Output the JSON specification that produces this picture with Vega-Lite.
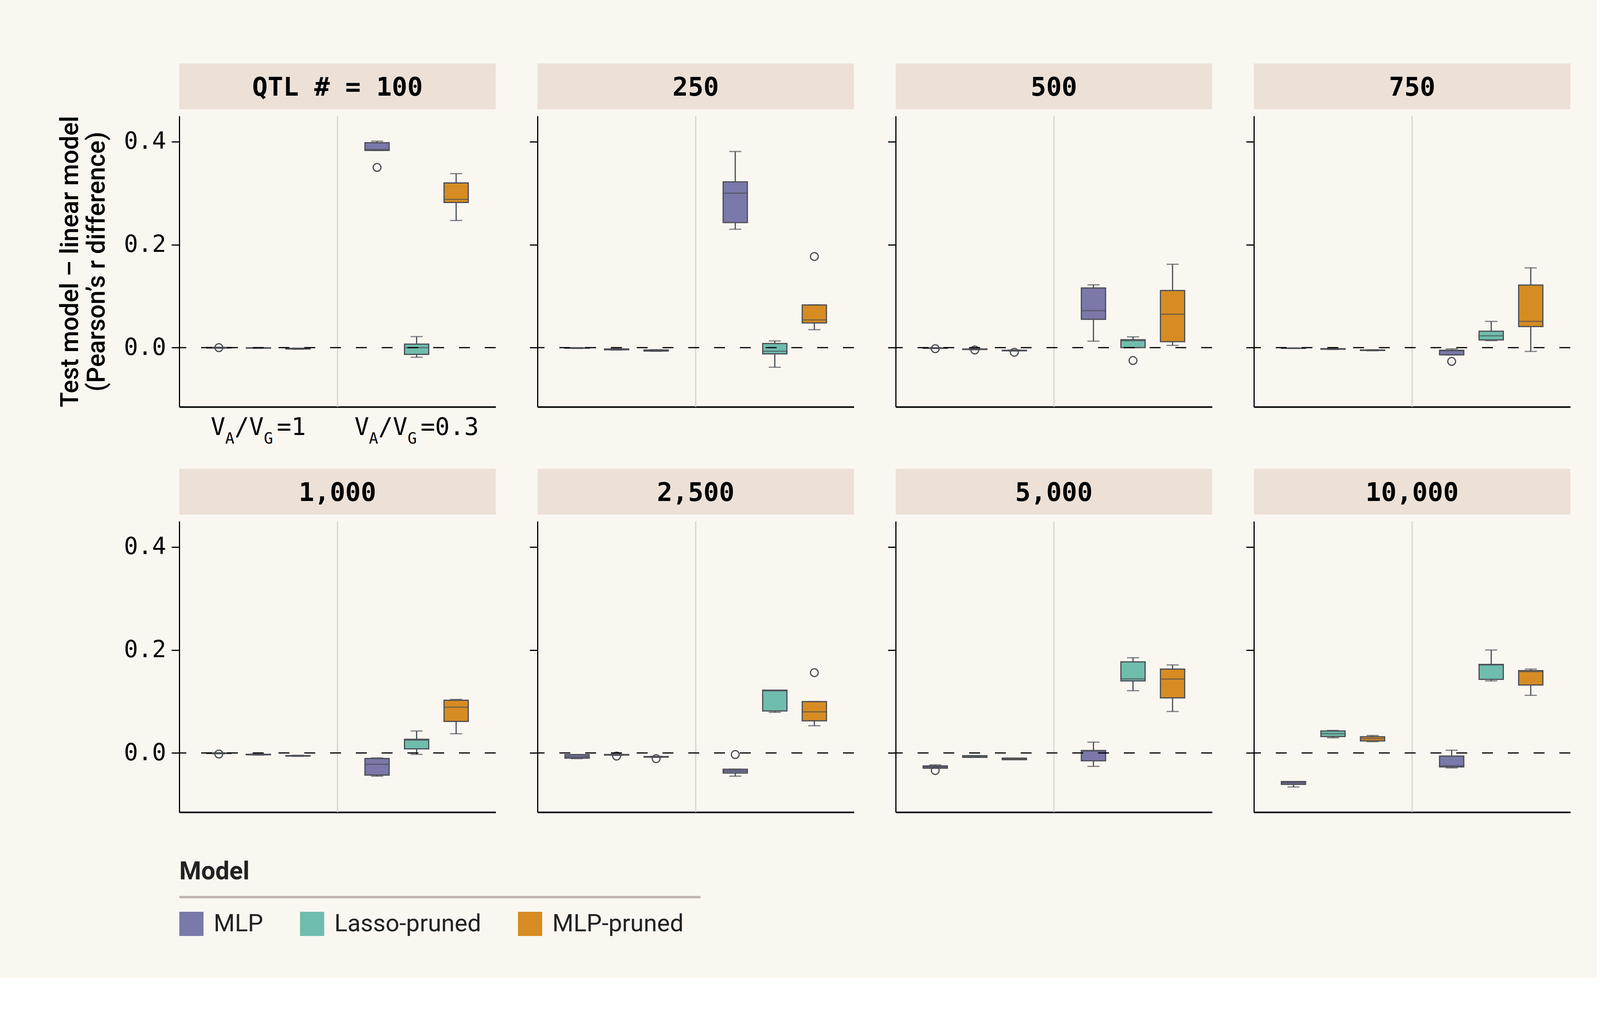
{
  "$schema": "https://vega.github.io/schema/vega-lite/v6.json",
  "background": "#faf7f1",
  "padding": {"left": 148, "top": 162, "right": 66, "bottom": 108},
  "autosize": {"type": "pad"},
  "datasets": {
    "box": [
      {"qtl": 100, "ratio": "1", "Model": "MLP", "lo": -0.0012, "q1": -0.0006, "med": -0.0002, "q3": 0.0004, "hi": 0.0008},
      {"qtl": 100, "ratio": "1", "Model": "Lasso-pruned", "lo": -0.0012, "q1": -0.0008, "med": -0.0005, "q3": -0.0002, "hi": 0.0},
      {"qtl": 100, "ratio": "1", "Model": "MLP-pruned", "lo": -0.003, "q1": -0.0025, "med": -0.002, "q3": -0.0015, "hi": -0.001},
      {"qtl": 100, "ratio": "0.3", "Model": "MLP", "lo": 0.383, "q1": 0.383, "med": 0.385, "q3": 0.398, "hi": 0.401},
      {"qtl": 100, "ratio": "0.3", "Model": "Lasso-pruned", "lo": -0.0186, "q1": -0.013, "med": 0.0, "q3": 0.007, "hi": 0.0215},
      {"qtl": 100, "ratio": "0.3", "Model": "MLP-pruned", "lo": 0.247, "q1": 0.282, "med": 0.288, "q3": 0.32, "hi": 0.338},
      {"qtl": 250, "ratio": "1", "Model": "MLP", "lo": -0.0015, "q1": -0.001, "med": -0.0008, "q3": -0.0005, "hi": 0.0},
      {"qtl": 250, "ratio": "1", "Model": "Lasso-pruned", "lo": -0.0045, "q1": -0.004, "med": -0.0032, "q3": -0.0025, "hi": -0.002},
      {"qtl": 250, "ratio": "1", "Model": "MLP-pruned", "lo": -0.007, "q1": -0.0065, "med": -0.0055, "q3": -0.0045, "hi": -0.004},
      {"qtl": 250, "ratio": "0.3", "Model": "MLP", "lo": 0.23, "q1": 0.243, "med": 0.3, "q3": 0.322, "hi": 0.381},
      {"qtl": 250, "ratio": "0.3", "Model": "Lasso-pruned", "lo": -0.038, "q1": -0.012, "med": -0.007, "q3": 0.008, "hi": 0.013},
      {"qtl": 250, "ratio": "0.3", "Model": "MLP-pruned", "lo": 0.035, "q1": 0.048, "med": 0.054, "q3": 0.083, "hi": 0.083},
      {"qtl": 500, "ratio": "1", "Model": "MLP", "lo": -0.0015, "q1": -0.0012, "med": -0.001, "q3": -0.0005, "hi": 0.0},
      {"qtl": 500, "ratio": "1", "Model": "Lasso-pruned", "lo": -0.004, "q1": -0.0035, "med": -0.003, "q3": -0.0025, "hi": -0.002},
      {"qtl": 500, "ratio": "1", "Model": "MLP-pruned", "lo": -0.0065, "q1": -0.006, "med": -0.0055, "q3": -0.005, "hi": -0.0045},
      {"qtl": 500, "ratio": "0.3", "Model": "MLP", "lo": 0.0126, "q1": 0.055, "med": 0.072, "q3": 0.116, "hi": 0.122},
      {"qtl": 500, "ratio": "0.3", "Model": "Lasso-pruned", "lo": 0.0, "q1": 0.0, "med": 0.0136, "q3": 0.0155, "hi": 0.021},
      {"qtl": 500, "ratio": "0.3", "Model": "MLP-pruned", "lo": 0.0044, "q1": 0.0116, "med": 0.065, "q3": 0.111, "hi": 0.162},
      {"qtl": 750, "ratio": "1", "Model": "MLP", "lo": -0.0015, "q1": -0.0012, "med": -0.001, "q3": -0.0008, "hi": -0.0005},
      {"qtl": 750, "ratio": "1", "Model": "Lasso-pruned", "lo": -0.0035, "q1": -0.003, "med": -0.0025, "q3": -0.002, "hi": -0.0015},
      {"qtl": 750, "ratio": "1", "Model": "MLP-pruned", "lo": -0.006, "q1": -0.0055, "med": -0.005, "q3": -0.0045, "hi": -0.004},
      {"qtl": 750, "ratio": "0.3", "Model": "MLP", "lo": -0.014, "q1": -0.014, "med": -0.006, "q3": -0.005, "hi": -0.0024},
      {"qtl": 750, "ratio": "0.3", "Model": "Lasso-pruned", "lo": 0.0136, "q1": 0.015, "med": 0.023, "q3": 0.032, "hi": 0.051},
      {"qtl": 750, "ratio": "0.3", "Model": "MLP-pruned", "lo": -0.0073, "q1": 0.041, "med": 0.051, "q3": 0.1217, "hi": 0.155},
      {"qtl": 1000, "ratio": "1", "Model": "MLP", "lo": -0.0015, "q1": -0.001, "med": -0.0005, "q3": 0.0, "hi": 0.0005},
      {"qtl": 1000, "ratio": "1", "Model": "Lasso-pruned", "lo": -0.004, "q1": -0.0035, "med": -0.003, "q3": -0.0025, "hi": -0.002},
      {"qtl": 1000, "ratio": "1", "Model": "MLP-pruned", "lo": -0.0065, "q1": -0.006, "med": -0.0055, "q3": -0.005, "hi": -0.0045},
      {"qtl": 1000, "ratio": "0.3", "Model": "MLP", "lo": -0.045, "q1": -0.043, "med": -0.022, "q3": -0.0107, "hi": -0.0096},
      {"qtl": 1000, "ratio": "0.3", "Model": "Lasso-pruned", "lo": -0.0027, "q1": 0.008, "med": 0.025, "q3": 0.0267, "hi": 0.0427},
      {"qtl": 1000, "ratio": "0.3", "Model": "MLP-pruned", "lo": 0.0374, "q1": 0.0614, "med": 0.089, "q3": 0.1025, "hi": 0.104},
      {"qtl": 2500, "ratio": "1", "Model": "MLP", "lo": -0.011, "q1": -0.01, "med": -0.007, "q3": -0.0032, "hi": -0.003},
      {"qtl": 2500, "ratio": "1", "Model": "Lasso-pruned", "lo": -0.0045, "q1": -0.004, "med": -0.0035, "q3": -0.003, "hi": -0.0025},
      {"qtl": 2500, "ratio": "1", "Model": "MLP-pruned", "lo": -0.0085, "q1": -0.008, "med": -0.0075, "q3": -0.007, "hi": -0.0065},
      {"qtl": 2500, "ratio": "0.3", "Model": "MLP", "lo": -0.045, "q1": -0.039, "med": -0.035, "q3": -0.0315, "hi": -0.0315},
      {"qtl": 2500, "ratio": "0.3", "Model": "Lasso-pruned", "lo": 0.079, "q1": 0.0817, "med": 0.1207, "q3": 0.122, "hi": 0.122},
      {"qtl": 2500, "ratio": "0.3", "Model": "MLP-pruned", "lo": 0.0529, "q1": 0.0625, "med": 0.08, "q3": 0.0999, "hi": 0.0999},
      {"qtl": 5000, "ratio": "1", "Model": "MLP", "lo": -0.0294, "q1": -0.0294, "med": -0.027, "q3": -0.0251, "hi": -0.023},
      {"qtl": 5000, "ratio": "1", "Model": "Lasso-pruned", "lo": -0.0085, "q1": -0.0085, "med": -0.007, "q3": -0.0053, "hi": -0.0053},
      {"qtl": 5000, "ratio": "1", "Model": "MLP-pruned", "lo": -0.013, "q1": -0.013, "med": -0.0115, "q3": -0.01, "hi": -0.01},
      {"qtl": 5000, "ratio": "0.3", "Model": "MLP", "lo": -0.026, "q1": -0.015, "med": 0.0037, "q3": 0.0048, "hi": 0.021},
      {"qtl": 5000, "ratio": "0.3", "Model": "Lasso-pruned", "lo": 0.121, "q1": 0.14, "med": 0.144, "q3": 0.177, "hi": 0.185},
      {"qtl": 5000, "ratio": "0.3", "Model": "MLP-pruned", "lo": 0.0806, "q1": 0.107, "med": 0.1436, "q3": 0.163, "hi": 0.171},
      {"qtl": 10000, "ratio": "1", "Model": "MLP", "lo": -0.066, "q1": -0.061, "med": -0.058, "q3": -0.0555, "hi": -0.0555},
      {"qtl": 10000, "ratio": "1", "Model": "Lasso-pruned", "lo": 0.0294, "q1": 0.032, "med": 0.0374, "q3": 0.0427, "hi": 0.0438},
      {"qtl": 10000, "ratio": "1", "Model": "MLP-pruned", "lo": 0.022, "q1": 0.0235, "med": 0.0278, "q3": 0.0315, "hi": 0.034},
      {"qtl": 10000, "ratio": "0.3", "Model": "MLP", "lo": -0.029, "q1": -0.027, "med": -0.025, "q3": -0.006, "hi": 0.0053},
      {"qtl": 10000, "ratio": "0.3", "Model": "Lasso-pruned", "lo": 0.14, "q1": 0.143, "med": 0.171, "q3": 0.172, "hi": 0.2},
      {"qtl": 10000, "ratio": "0.3", "Model": "MLP-pruned", "lo": 0.112, "q1": 0.132, "med": 0.158, "q3": 0.16, "hi": 0.163}
    ],
    "out": [
      {"qtl": 100, "ratio": "1", "Model": "MLP", "v": 0.0},
      {"qtl": 100, "ratio": "0.3", "Model": "MLP", "v": 0.35},
      {"qtl": 250, "ratio": "0.3", "Model": "MLP-pruned", "v": 0.177},
      {"qtl": 500, "ratio": "1", "Model": "MLP", "v": -0.002},
      {"qtl": 500, "ratio": "1", "Model": "Lasso-pruned", "v": -0.0045},
      {"qtl": 500, "ratio": "1", "Model": "MLP-pruned", "v": -0.009},
      {"qtl": 500, "ratio": "0.3", "Model": "Lasso-pruned", "v": -0.025},
      {"qtl": 750, "ratio": "0.3", "Model": "MLP", "v": -0.0267},
      {"qtl": 1000, "ratio": "1", "Model": "MLP", "v": -0.002},
      {"qtl": 2500, "ratio": "1", "Model": "Lasso-pruned", "v": -0.006},
      {"qtl": 2500, "ratio": "1", "Model": "MLP-pruned", "v": -0.011},
      {"qtl": 2500, "ratio": "0.3", "Model": "MLP", "v": -0.003},
      {"qtl": 2500, "ratio": "0.3", "Model": "MLP-pruned", "v": 0.156},
      {"qtl": 5000, "ratio": "1", "Model": "MLP", "v": -0.034}
    ]
  },
  "concat": [
    {
      "width": 810, "height": 745,
      "data": {"name": "box"}, "transform": [{"filter": "datum.qtl == 100"}],
      "layer": [
        {"data": {"values": [{}]}, "mark": {"type": "rect", "fill": "#ece0d7"}, "encoding": {"y": {"datum": 0.463}, "y2": {"datum": 0.552}}},
        {"data": {"values": [{"ratio": "1", "t": "QTL # = 100"}]}, "mark": {"type": "text", "font": "DejaVu Sans Mono", "fontSize": 66, "fontWeight": "bold", "baseline": "alphabetic", "color": "#000"}, "encoding": {"x": {"field": "ratio", "type": "nominal", "bandPosition": 1}, "y": {"datum": 0.4895}, "text": {"field": "t"}}},
        {"data": {"values": [{"ratio": "0.3"}]}, "mark": {"type": "rule", "color": "#d6d2cc", "strokeWidth": 3}, "encoding": {"x": {"field": "ratio", "type": "nominal", "bandPosition": 0}}},
        {"mark": {"type": "rule", "color": "#4b4d54", "strokeWidth": 3}, "encoding": {"x": {"field": "ratio", "type": "nominal", "scale": {"domain": ["1", "0.3"], "paddingInner": 0, "paddingOuter": 0}}, "xOffset": {"field": "Model", "type": "nominal", "scale": {"domain": ["MLP", "Lasso-pruned", "MLP-pruned"], "paddingInner": 0, "paddingOuter": 0.5}}, "y": {"field": "lo", "type": "quantitative"}, "y2": {"field": "hi"}}},
        {"mark": {"type": "bar", "width": 62, "stroke": "#4b4d54", "strokeWidth": 3}, "encoding": {
          "x": {"field": "ratio", "type": "nominal", "scale": {"domain": ["1", "0.3"], "paddingInner": 0, "paddingOuter": 0}, "axis": {"title": null, "labels": false, "ticks": false}},
          "xOffset": {"field": "Model", "type": "nominal", "scale": {"domain": ["MLP", "Lasso-pruned", "MLP-pruned"], "paddingInner": 0, "paddingOuter": 0.5}},
          "y": {"field": "q1", "type": "quantitative", "scale": {"domain": [-0.115, 0.45], "nice": false, "zero": false}, "axis": {"title": ["Test model – linear model", "(Pearson’s r difference)"], "labels": true, "values": [0, 0.2, 0.4]}},
          "y2": {"field": "q3"},
          "color": {"field": "Model", "type": "nominal", "scale": {"domain": ["MLP", "Lasso-pruned", "MLP-pruned"], "range": ["#7b78aa", "#6fbdac", "#d68c22"]}}}},
        {"mark": {"type": "tick", "size": 62, "thickness": 3, "color": "#4b4d54"}, "encoding": {"x": {"field": "ratio", "type": "nominal"}, "xOffset": {"field": "Model", "type": "nominal"}, "y": {"field": "med", "type": "quantitative"}}},
        {"mark": {"type": "tick", "size": 31, "thickness": 3, "color": "#4b4d54"}, "encoding": {"x": {"field": "ratio", "type": "nominal"}, "xOffset": {"field": "Model", "type": "nominal"}, "y": {"field": "lo", "type": "quantitative"}}},
        {"mark": {"type": "tick", "size": 31, "thickness": 3, "color": "#4b4d54"}, "encoding": {"x": {"field": "ratio", "type": "nominal"}, "xOffset": {"field": "Model", "type": "nominal"}, "y": {"field": "hi", "type": "quantitative"}}},
        {"data": {"name": "out"}, "transform": [{"filter": "datum.qtl == 100"}], "mark": {"type": "point", "shape": "circle", "filled": false, "size": 400, "stroke": "#4b4d54", "strokeWidth": 3, "opacity": 1}, "encoding": {"x": {"field": "ratio", "type": "nominal"}, "xOffset": {"field": "Model", "type": "nominal"}, "y": {"field": "v", "type": "quantitative"}}},
        {"data": {"values": [{}]}, "mark": {"type": "rule", "color": "#000", "strokeWidth": 3, "strokeDash": [28, 38]}, "encoding": {"y": {"datum": 0}}},
        {"data": {"values": [{"ratio": "1", "t": "V"}]}, "mark": {"type": "text", "font": "DejaVu Sans Mono", "fontSize": 62, "align": "left", "baseline": "alphabetic", "dy": 72, "dx": -122, "color": "#000"}, "encoding": {"x": {"field": "ratio", "type": "nominal"}, "y": {"datum": -0.115}, "text": {"field": "t"}}},
        {"data": {"values": [{"ratio": "1", "t": "A"}]}, "mark": {"type": "text", "font": "DejaVu Sans Mono", "fontSize": 39, "align": "left", "baseline": "alphabetic", "dy": 94, "dx": -85, "color": "#000"}, "encoding": {"x": {"field": "ratio", "type": "nominal"}, "y": {"datum": -0.115}, "text": {"field": "t"}}},
        {"data": {"values": [{"ratio": "1", "t": "/V"}]}, "mark": {"type": "text", "font": "DejaVu Sans Mono", "fontSize": 62, "align": "left", "baseline": "alphabetic", "dy": 72, "dx": -61, "color": "#000"}, "encoding": {"x": {"field": "ratio", "type": "nominal"}, "y": {"datum": -0.115}, "text": {"field": "t"}}},
        {"data": {"values": [{"ratio": "1", "t": "G"}]}, "mark": {"type": "text", "font": "DejaVu Sans Mono", "fontSize": 39, "align": "left", "baseline": "alphabetic", "dy": 94, "dx": 14, "color": "#000"}, "encoding": {"x": {"field": "ratio", "type": "nominal"}, "y": {"datum": -0.115}, "text": {"field": "t"}}},
        {"data": {"values": [{"ratio": "1", "t": "=1"}]}, "mark": {"type": "text", "font": "DejaVu Sans Mono", "fontSize": 62, "align": "left", "baseline": "alphabetic", "dy": 72, "dx": 47, "color": "#000"}, "encoding": {"x": {"field": "ratio", "type": "nominal"}, "y": {"datum": -0.115}, "text": {"field": "t"}}},
        {"data": {"values": [{"ratio": "0.3", "t": "V"}]}, "mark": {"type": "text", "font": "DejaVu Sans Mono", "fontSize": 62, "align": "left", "baseline": "alphabetic", "dy": 72, "dx": -159, "color": "#000"}, "encoding": {"x": {"field": "ratio", "type": "nominal"}, "y": {"datum": -0.115}, "text": {"field": "t"}}},
        {"data": {"values": [{"ratio": "0.3", "t": "A"}]}, "mark": {"type": "text", "font": "DejaVu Sans Mono", "fontSize": 39, "align": "left", "baseline": "alphabetic", "dy": 94, "dx": -122, "color": "#000"}, "encoding": {"x": {"field": "ratio", "type": "nominal"}, "y": {"datum": -0.115}, "text": {"field": "t"}}},
        {"data": {"values": [{"ratio": "0.3", "t": "/V"}]}, "mark": {"type": "text", "font": "DejaVu Sans Mono", "fontSize": 62, "align": "left", "baseline": "alphabetic", "dy": 72, "dx": -98, "color": "#000"}, "encoding": {"x": {"field": "ratio", "type": "nominal"}, "y": {"datum": -0.115}, "text": {"field": "t"}}},
        {"data": {"values": [{"ratio": "0.3", "t": "G"}]}, "mark": {"type": "text", "font": "DejaVu Sans Mono", "fontSize": 39, "align": "left", "baseline": "alphabetic", "dy": 94, "dx": -23, "color": "#000"}, "encoding": {"x": {"field": "ratio", "type": "nominal"}, "y": {"datum": -0.115}, "text": {"field": "t"}}},
        {"data": {"values": [{"ratio": "0.3", "t": "=0.3"}]}, "mark": {"type": "text", "font": "DejaVu Sans Mono", "fontSize": 62, "align": "left", "baseline": "alphabetic", "dy": 72, "dx": 10, "color": "#000"}, "encoding": {"x": {"field": "ratio", "type": "nominal"}, "y": {"datum": -0.115}, "text": {"field": "t"}}}
      ]
    },
    {
      "width": 810, "height": 745,
      "data": {"name": "box"}, "transform": [{"filter": "datum.qtl == 250"}],
      "layer": [
        {"data": {"values": [{}]}, "mark": {"type": "rect", "fill": "#ece0d7"}, "encoding": {"y": {"datum": 0.463}, "y2": {"datum": 0.552}}},
        {"data": {"values": [{"ratio": "1", "t": "250"}]}, "mark": {"type": "text", "font": "DejaVu Sans Mono", "fontSize": 66, "fontWeight": "bold", "baseline": "alphabetic", "color": "#000"}, "encoding": {"x": {"field": "ratio", "type": "nominal", "bandPosition": 1}, "y": {"datum": 0.4895}, "text": {"field": "t"}}},
        {"data": {"values": [{"ratio": "0.3"}]}, "mark": {"type": "rule", "color": "#d6d2cc", "strokeWidth": 3}, "encoding": {"x": {"field": "ratio", "type": "nominal", "bandPosition": 0}}},
        {"mark": {"type": "rule", "color": "#4b4d54", "strokeWidth": 3}, "encoding": {"x": {"field": "ratio", "type": "nominal", "scale": {"domain": ["1", "0.3"], "paddingInner": 0, "paddingOuter": 0}}, "xOffset": {"field": "Model", "type": "nominal", "scale": {"domain": ["MLP", "Lasso-pruned", "MLP-pruned"], "paddingInner": 0, "paddingOuter": 0.5}}, "y": {"field": "lo", "type": "quantitative"}, "y2": {"field": "hi"}}},
        {"mark": {"type": "bar", "width": 62, "stroke": "#4b4d54", "strokeWidth": 3}, "encoding": {
          "x": {"field": "ratio", "type": "nominal", "scale": {"domain": ["1", "0.3"], "paddingInner": 0, "paddingOuter": 0}, "axis": {"title": null, "labels": false, "ticks": false}},
          "xOffset": {"field": "Model", "type": "nominal", "scale": {"domain": ["MLP", "Lasso-pruned", "MLP-pruned"], "paddingInner": 0, "paddingOuter": 0.5}},
          "y": {"field": "q1", "type": "quantitative", "scale": {"domain": [-0.115, 0.45], "nice": false, "zero": false}, "axis": {"title": null, "labels": false, "values": [0, 0.2, 0.4]}},
          "y2": {"field": "q3"},
          "color": {"field": "Model", "type": "nominal", "scale": {"domain": ["MLP", "Lasso-pruned", "MLP-pruned"], "range": ["#7b78aa", "#6fbdac", "#d68c22"]}}}},
        {"mark": {"type": "tick", "size": 62, "thickness": 3, "color": "#4b4d54"}, "encoding": {"x": {"field": "ratio", "type": "nominal"}, "xOffset": {"field": "Model", "type": "nominal"}, "y": {"field": "med", "type": "quantitative"}}},
        {"mark": {"type": "tick", "size": 31, "thickness": 3, "color": "#4b4d54"}, "encoding": {"x": {"field": "ratio", "type": "nominal"}, "xOffset": {"field": "Model", "type": "nominal"}, "y": {"field": "lo", "type": "quantitative"}}},
        {"mark": {"type": "tick", "size": 31, "thickness": 3, "color": "#4b4d54"}, "encoding": {"x": {"field": "ratio", "type": "nominal"}, "xOffset": {"field": "Model", "type": "nominal"}, "y": {"field": "hi", "type": "quantitative"}}},
        {"data": {"name": "out"}, "transform": [{"filter": "datum.qtl == 250"}], "mark": {"type": "point", "shape": "circle", "filled": false, "size": 400, "stroke": "#4b4d54", "strokeWidth": 3, "opacity": 1}, "encoding": {"x": {"field": "ratio", "type": "nominal"}, "xOffset": {"field": "Model", "type": "nominal"}, "y": {"field": "v", "type": "quantitative"}}},
        {"data": {"values": [{}]}, "mark": {"type": "rule", "color": "#000", "strokeWidth": 3, "strokeDash": [28, 38]}, "encoding": {"y": {"datum": 0}}}
      ]
    },
    {
      "width": 810, "height": 745,
      "data": {"name": "box"}, "transform": [{"filter": "datum.qtl == 500"}],
      "layer": [
        {"data": {"values": [{}]}, "mark": {"type": "rect", "fill": "#ece0d7"}, "encoding": {"y": {"datum": 0.463}, "y2": {"datum": 0.552}}},
        {"data": {"values": [{"ratio": "1", "t": "500"}]}, "mark": {"type": "text", "font": "DejaVu Sans Mono", "fontSize": 66, "fontWeight": "bold", "baseline": "alphabetic", "color": "#000"}, "encoding": {"x": {"field": "ratio", "type": "nominal", "bandPosition": 1}, "y": {"datum": 0.4895}, "text": {"field": "t"}}},
        {"data": {"values": [{"ratio": "0.3"}]}, "mark": {"type": "rule", "color": "#d6d2cc", "strokeWidth": 3}, "encoding": {"x": {"field": "ratio", "type": "nominal", "bandPosition": 0}}},
        {"mark": {"type": "rule", "color": "#4b4d54", "strokeWidth": 3}, "encoding": {"x": {"field": "ratio", "type": "nominal", "scale": {"domain": ["1", "0.3"], "paddingInner": 0, "paddingOuter": 0}}, "xOffset": {"field": "Model", "type": "nominal", "scale": {"domain": ["MLP", "Lasso-pruned", "MLP-pruned"], "paddingInner": 0, "paddingOuter": 0.5}}, "y": {"field": "lo", "type": "quantitative"}, "y2": {"field": "hi"}}},
        {"mark": {"type": "bar", "width": 62, "stroke": "#4b4d54", "strokeWidth": 3}, "encoding": {
          "x": {"field": "ratio", "type": "nominal", "scale": {"domain": ["1", "0.3"], "paddingInner": 0, "paddingOuter": 0}, "axis": {"title": null, "labels": false, "ticks": false}},
          "xOffset": {"field": "Model", "type": "nominal", "scale": {"domain": ["MLP", "Lasso-pruned", "MLP-pruned"], "paddingInner": 0, "paddingOuter": 0.5}},
          "y": {"field": "q1", "type": "quantitative", "scale": {"domain": [-0.115, 0.45], "nice": false, "zero": false}, "axis": {"title": null, "labels": false, "values": [0, 0.2, 0.4]}},
          "y2": {"field": "q3"},
          "color": {"field": "Model", "type": "nominal", "scale": {"domain": ["MLP", "Lasso-pruned", "MLP-pruned"], "range": ["#7b78aa", "#6fbdac", "#d68c22"]}}}},
        {"mark": {"type": "tick", "size": 62, "thickness": 3, "color": "#4b4d54"}, "encoding": {"x": {"field": "ratio", "type": "nominal"}, "xOffset": {"field": "Model", "type": "nominal"}, "y": {"field": "med", "type": "quantitative"}}},
        {"mark": {"type": "tick", "size": 31, "thickness": 3, "color": "#4b4d54"}, "encoding": {"x": {"field": "ratio", "type": "nominal"}, "xOffset": {"field": "Model", "type": "nominal"}, "y": {"field": "lo", "type": "quantitative"}}},
        {"mark": {"type": "tick", "size": 31, "thickness": 3, "color": "#4b4d54"}, "encoding": {"x": {"field": "ratio", "type": "nominal"}, "xOffset": {"field": "Model", "type": "nominal"}, "y": {"field": "hi", "type": "quantitative"}}},
        {"data": {"name": "out"}, "transform": [{"filter": "datum.qtl == 500"}], "mark": {"type": "point", "shape": "circle", "filled": false, "size": 400, "stroke": "#4b4d54", "strokeWidth": 3, "opacity": 1}, "encoding": {"x": {"field": "ratio", "type": "nominal"}, "xOffset": {"field": "Model", "type": "nominal"}, "y": {"field": "v", "type": "quantitative"}}},
        {"data": {"values": [{}]}, "mark": {"type": "rule", "color": "#000", "strokeWidth": 3, "strokeDash": [28, 38]}, "encoding": {"y": {"datum": 0}}}
      ]
    },
    {
      "width": 810, "height": 745,
      "data": {"name": "box"}, "transform": [{"filter": "datum.qtl == 750"}],
      "layer": [
        {"data": {"values": [{}]}, "mark": {"type": "rect", "fill": "#ece0d7"}, "encoding": {"y": {"datum": 0.463}, "y2": {"datum": 0.552}}},
        {"data": {"values": [{"ratio": "1", "t": "750"}]}, "mark": {"type": "text", "font": "DejaVu Sans Mono", "fontSize": 66, "fontWeight": "bold", "baseline": "alphabetic", "color": "#000"}, "encoding": {"x": {"field": "ratio", "type": "nominal", "bandPosition": 1}, "y": {"datum": 0.4895}, "text": {"field": "t"}}},
        {"data": {"values": [{"ratio": "0.3"}]}, "mark": {"type": "rule", "color": "#d6d2cc", "strokeWidth": 3}, "encoding": {"x": {"field": "ratio", "type": "nominal", "bandPosition": 0}}},
        {"mark": {"type": "rule", "color": "#4b4d54", "strokeWidth": 3}, "encoding": {"x": {"field": "ratio", "type": "nominal", "scale": {"domain": ["1", "0.3"], "paddingInner": 0, "paddingOuter": 0}}, "xOffset": {"field": "Model", "type": "nominal", "scale": {"domain": ["MLP", "Lasso-pruned", "MLP-pruned"], "paddingInner": 0, "paddingOuter": 0.5}}, "y": {"field": "lo", "type": "quantitative"}, "y2": {"field": "hi"}}},
        {"mark": {"type": "bar", "width": 62, "stroke": "#4b4d54", "strokeWidth": 3}, "encoding": {
          "x": {"field": "ratio", "type": "nominal", "scale": {"domain": ["1", "0.3"], "paddingInner": 0, "paddingOuter": 0}, "axis": {"title": null, "labels": false, "ticks": false}},
          "xOffset": {"field": "Model", "type": "nominal", "scale": {"domain": ["MLP", "Lasso-pruned", "MLP-pruned"], "paddingInner": 0, "paddingOuter": 0.5}},
          "y": {"field": "q1", "type": "quantitative", "scale": {"domain": [-0.115, 0.45], "nice": false, "zero": false}, "axis": {"title": null, "labels": false, "values": [0, 0.2, 0.4]}},
          "y2": {"field": "q3"},
          "color": {"field": "Model", "type": "nominal", "scale": {"domain": ["MLP", "Lasso-pruned", "MLP-pruned"], "range": ["#7b78aa", "#6fbdac", "#d68c22"]}}}},
        {"mark": {"type": "tick", "size": 62, "thickness": 3, "color": "#4b4d54"}, "encoding": {"x": {"field": "ratio", "type": "nominal"}, "xOffset": {"field": "Model", "type": "nominal"}, "y": {"field": "med", "type": "quantitative"}}},
        {"mark": {"type": "tick", "size": 31, "thickness": 3, "color": "#4b4d54"}, "encoding": {"x": {"field": "ratio", "type": "nominal"}, "xOffset": {"field": "Model", "type": "nominal"}, "y": {"field": "lo", "type": "quantitative"}}},
        {"mark": {"type": "tick", "size": 31, "thickness": 3, "color": "#4b4d54"}, "encoding": {"x": {"field": "ratio", "type": "nominal"}, "xOffset": {"field": "Model", "type": "nominal"}, "y": {"field": "hi", "type": "quantitative"}}},
        {"data": {"name": "out"}, "transform": [{"filter": "datum.qtl == 750"}], "mark": {"type": "point", "shape": "circle", "filled": false, "size": 400, "stroke": "#4b4d54", "strokeWidth": 3, "opacity": 1}, "encoding": {"x": {"field": "ratio", "type": "nominal"}, "xOffset": {"field": "Model", "type": "nominal"}, "y": {"field": "v", "type": "quantitative"}}},
        {"data": {"values": [{}]}, "mark": {"type": "rule", "color": "#000", "strokeWidth": 3, "strokeDash": [28, 38]}, "encoding": {"y": {"datum": 0}}}
      ]
    },
    {
      "width": 810, "height": 745,
      "resolve": {"scale": {"x": "independent"}, "axis": {"x": "independent"}},
      "layer": [
        {
          "data": {"name": "box"}, "transform": [{"filter": "datum.qtl == 1000"}],
          "layer": [
            {"data": {"values": [{}]}, "mark": {"type": "rect", "fill": "#ece0d7"}, "encoding": {"y": {"datum": 0.463}, "y2": {"datum": 0.552}}},
            {"data": {"values": [{"ratio": "1", "t": "1,000"}]}, "mark": {"type": "text", "font": "DejaVu Sans Mono", "fontSize": 66, "fontWeight": "bold", "baseline": "alphabetic", "color": "#000"}, "encoding": {"x": {"field": "ratio", "type": "nominal", "bandPosition": 1}, "y": {"datum": 0.4895}, "text": {"field": "t"}}},
            {"data": {"values": [{"ratio": "0.3"}]}, "mark": {"type": "rule", "color": "#d6d2cc", "strokeWidth": 3}, "encoding": {"x": {"field": "ratio", "type": "nominal", "bandPosition": 0}}},
            {"mark": {"type": "rule", "color": "#4b4d54", "strokeWidth": 3}, "encoding": {"x": {"field": "ratio", "type": "nominal", "scale": {"domain": ["1", "0.3"], "paddingInner": 0, "paddingOuter": 0}}, "xOffset": {"field": "Model", "type": "nominal", "scale": {"domain": ["MLP", "Lasso-pruned", "MLP-pruned"], "paddingInner": 0, "paddingOuter": 0.5}}, "y": {"field": "lo", "type": "quantitative"}, "y2": {"field": "hi"}}},
            {"mark": {"type": "bar", "width": 62, "stroke": "#4b4d54", "strokeWidth": 3}, "encoding": {
              "x": {"field": "ratio", "type": "nominal", "scale": {"domain": ["1", "0.3"], "paddingInner": 0, "paddingOuter": 0}, "axis": {"title": null, "labels": false, "ticks": false}},
              "xOffset": {"field": "Model", "type": "nominal", "scale": {"domain": ["MLP", "Lasso-pruned", "MLP-pruned"], "paddingInner": 0, "paddingOuter": 0.5}},
              "y": {"field": "q1", "type": "quantitative", "scale": {"domain": [-0.115, 0.45], "nice": false, "zero": false}, "axis": {"title": null, "labels": true, "values": [0, 0.2, 0.4]}},
              "y2": {"field": "q3"},
              "color": {"field": "Model", "type": "nominal", "scale": {"domain": ["MLP", "Lasso-pruned", "MLP-pruned"], "range": ["#7b78aa", "#6fbdac", "#d68c22"]}}}},
            {"mark": {"type": "tick", "size": 62, "thickness": 3, "color": "#4b4d54"}, "encoding": {"x": {"field": "ratio", "type": "nominal"}, "xOffset": {"field": "Model", "type": "nominal"}, "y": {"field": "med", "type": "quantitative"}}},
            {"mark": {"type": "tick", "size": 31, "thickness": 3, "color": "#4b4d54"}, "encoding": {"x": {"field": "ratio", "type": "nominal"}, "xOffset": {"field": "Model", "type": "nominal"}, "y": {"field": "lo", "type": "quantitative"}}},
            {"mark": {"type": "tick", "size": 31, "thickness": 3, "color": "#4b4d54"}, "encoding": {"x": {"field": "ratio", "type": "nominal"}, "xOffset": {"field": "Model", "type": "nominal"}, "y": {"field": "hi", "type": "quantitative"}}},
            {"data": {"name": "out"}, "transform": [{"filter": "datum.qtl == 1000"}], "mark": {"type": "point", "shape": "circle", "filled": false, "size": 400, "stroke": "#4b4d54", "strokeWidth": 3, "opacity": 1}, "encoding": {"x": {"field": "ratio", "type": "nominal"}, "xOffset": {"field": "Model", "type": "nominal"}, "y": {"field": "v", "type": "quantitative"}}},
            {"data": {"values": [{}]}, "mark": {"type": "rule", "color": "#000", "strokeWidth": 3, "strokeDash": [28, 38]}, "encoding": {"y": {"datum": 0}}}
          ]
        },
        {"data": {"values": [{}]}, "mark": {"type": "rule", "color": "#bdb5ae", "strokeWidth": 6}, "encoding": {"x": {"datum": 0, "type": "quantitative", "scale": {"domain": [0, 1], "nice": false}, "axis": null}, "x2": {"datum": 1.647}, "y": {"datum": -0.28}}}
      ]
    },
    {
      "width": 810, "height": 745,
      "data": {"name": "box"}, "transform": [{"filter": "datum.qtl == 2500"}],
      "layer": [
        {"data": {"values": [{}]}, "mark": {"type": "rect", "fill": "#ece0d7"}, "encoding": {"y": {"datum": 0.463}, "y2": {"datum": 0.552}}},
        {"data": {"values": [{"ratio": "1", "t": "2,500"}]}, "mark": {"type": "text", "font": "DejaVu Sans Mono", "fontSize": 66, "fontWeight": "bold", "baseline": "alphabetic", "color": "#000"}, "encoding": {"x": {"field": "ratio", "type": "nominal", "bandPosition": 1}, "y": {"datum": 0.4895}, "text": {"field": "t"}}},
        {"data": {"values": [{"ratio": "0.3"}]}, "mark": {"type": "rule", "color": "#d6d2cc", "strokeWidth": 3}, "encoding": {"x": {"field": "ratio", "type": "nominal", "bandPosition": 0}}},
        {"mark": {"type": "rule", "color": "#4b4d54", "strokeWidth": 3}, "encoding": {"x": {"field": "ratio", "type": "nominal", "scale": {"domain": ["1", "0.3"], "paddingInner": 0, "paddingOuter": 0}}, "xOffset": {"field": "Model", "type": "nominal", "scale": {"domain": ["MLP", "Lasso-pruned", "MLP-pruned"], "paddingInner": 0, "paddingOuter": 0.5}}, "y": {"field": "lo", "type": "quantitative"}, "y2": {"field": "hi"}}},
        {"mark": {"type": "bar", "width": 62, "stroke": "#4b4d54", "strokeWidth": 3}, "encoding": {
          "x": {"field": "ratio", "type": "nominal", "scale": {"domain": ["1", "0.3"], "paddingInner": 0, "paddingOuter": 0}, "axis": {"title": null, "labels": false, "ticks": false}},
          "xOffset": {"field": "Model", "type": "nominal", "scale": {"domain": ["MLP", "Lasso-pruned", "MLP-pruned"], "paddingInner": 0, "paddingOuter": 0.5}},
          "y": {"field": "q1", "type": "quantitative", "scale": {"domain": [-0.115, 0.45], "nice": false, "zero": false}, "axis": {"title": null, "labels": false, "values": [0, 0.2, 0.4]}},
          "y2": {"field": "q3"},
          "color": {"field": "Model", "type": "nominal", "scale": {"domain": ["MLP", "Lasso-pruned", "MLP-pruned"], "range": ["#7b78aa", "#6fbdac", "#d68c22"]}}}},
        {"mark": {"type": "tick", "size": 62, "thickness": 3, "color": "#4b4d54"}, "encoding": {"x": {"field": "ratio", "type": "nominal"}, "xOffset": {"field": "Model", "type": "nominal"}, "y": {"field": "med", "type": "quantitative"}}},
        {"mark": {"type": "tick", "size": 31, "thickness": 3, "color": "#4b4d54"}, "encoding": {"x": {"field": "ratio", "type": "nominal"}, "xOffset": {"field": "Model", "type": "nominal"}, "y": {"field": "lo", "type": "quantitative"}}},
        {"mark": {"type": "tick", "size": 31, "thickness": 3, "color": "#4b4d54"}, "encoding": {"x": {"field": "ratio", "type": "nominal"}, "xOffset": {"field": "Model", "type": "nominal"}, "y": {"field": "hi", "type": "quantitative"}}},
        {"data": {"name": "out"}, "transform": [{"filter": "datum.qtl == 2500"}], "mark": {"type": "point", "shape": "circle", "filled": false, "size": 400, "stroke": "#4b4d54", "strokeWidth": 3, "opacity": 1}, "encoding": {"x": {"field": "ratio", "type": "nominal"}, "xOffset": {"field": "Model", "type": "nominal"}, "y": {"field": "v", "type": "quantitative"}}},
        {"data": {"values": [{}]}, "mark": {"type": "rule", "color": "#000", "strokeWidth": 3, "strokeDash": [28, 38]}, "encoding": {"y": {"datum": 0}}}
      ]
    },
    {
      "width": 810, "height": 745,
      "data": {"name": "box"}, "transform": [{"filter": "datum.qtl == 5000"}],
      "layer": [
        {"data": {"values": [{}]}, "mark": {"type": "rect", "fill": "#ece0d7"}, "encoding": {"y": {"datum": 0.463}, "y2": {"datum": 0.552}}},
        {"data": {"values": [{"ratio": "1", "t": "5,000"}]}, "mark": {"type": "text", "font": "DejaVu Sans Mono", "fontSize": 66, "fontWeight": "bold", "baseline": "alphabetic", "color": "#000"}, "encoding": {"x": {"field": "ratio", "type": "nominal", "bandPosition": 1}, "y": {"datum": 0.4895}, "text": {"field": "t"}}},
        {"data": {"values": [{"ratio": "0.3"}]}, "mark": {"type": "rule", "color": "#d6d2cc", "strokeWidth": 3}, "encoding": {"x": {"field": "ratio", "type": "nominal", "bandPosition": 0}}},
        {"mark": {"type": "rule", "color": "#4b4d54", "strokeWidth": 3}, "encoding": {"x": {"field": "ratio", "type": "nominal", "scale": {"domain": ["1", "0.3"], "paddingInner": 0, "paddingOuter": 0}}, "xOffset": {"field": "Model", "type": "nominal", "scale": {"domain": ["MLP", "Lasso-pruned", "MLP-pruned"], "paddingInner": 0, "paddingOuter": 0.5}}, "y": {"field": "lo", "type": "quantitative"}, "y2": {"field": "hi"}}},
        {"mark": {"type": "bar", "width": 62, "stroke": "#4b4d54", "strokeWidth": 3}, "encoding": {
          "x": {"field": "ratio", "type": "nominal", "scale": {"domain": ["1", "0.3"], "paddingInner": 0, "paddingOuter": 0}, "axis": {"title": null, "labels": false, "ticks": false}},
          "xOffset": {"field": "Model", "type": "nominal", "scale": {"domain": ["MLP", "Lasso-pruned", "MLP-pruned"], "paddingInner": 0, "paddingOuter": 0.5}},
          "y": {"field": "q1", "type": "quantitative", "scale": {"domain": [-0.115, 0.45], "nice": false, "zero": false}, "axis": {"title": null, "labels": false, "values": [0, 0.2, 0.4]}},
          "y2": {"field": "q3"},
          "color": {"field": "Model", "type": "nominal", "scale": {"domain": ["MLP", "Lasso-pruned", "MLP-pruned"], "range": ["#7b78aa", "#6fbdac", "#d68c22"]}}}},
        {"mark": {"type": "tick", "size": 62, "thickness": 3, "color": "#4b4d54"}, "encoding": {"x": {"field": "ratio", "type": "nominal"}, "xOffset": {"field": "Model", "type": "nominal"}, "y": {"field": "med", "type": "quantitative"}}},
        {"mark": {"type": "tick", "size": 31, "thickness": 3, "color": "#4b4d54"}, "encoding": {"x": {"field": "ratio", "type": "nominal"}, "xOffset": {"field": "Model", "type": "nominal"}, "y": {"field": "lo", "type": "quantitative"}}},
        {"mark": {"type": "tick", "size": 31, "thickness": 3, "color": "#4b4d54"}, "encoding": {"x": {"field": "ratio", "type": "nominal"}, "xOffset": {"field": "Model", "type": "nominal"}, "y": {"field": "hi", "type": "quantitative"}}},
        {"data": {"name": "out"}, "transform": [{"filter": "datum.qtl == 5000"}], "mark": {"type": "point", "shape": "circle", "filled": false, "size": 400, "stroke": "#4b4d54", "strokeWidth": 3, "opacity": 1}, "encoding": {"x": {"field": "ratio", "type": "nominal"}, "xOffset": {"field": "Model", "type": "nominal"}, "y": {"field": "v", "type": "quantitative"}}},
        {"data": {"values": [{}]}, "mark": {"type": "rule", "color": "#000", "strokeWidth": 3, "strokeDash": [28, 38]}, "encoding": {"y": {"datum": 0}}}
      ]
    },
    {
      "width": 810, "height": 745,
      "data": {"name": "box"}, "transform": [{"filter": "datum.qtl == 10000"}],
      "layer": [
        {"data": {"values": [{}]}, "mark": {"type": "rect", "fill": "#ece0d7"}, "encoding": {"y": {"datum": 0.463}, "y2": {"datum": 0.552}}},
        {"data": {"values": [{"ratio": "1", "t": "10,000"}]}, "mark": {"type": "text", "font": "DejaVu Sans Mono", "fontSize": 66, "fontWeight": "bold", "baseline": "alphabetic", "color": "#000"}, "encoding": {"x": {"field": "ratio", "type": "nominal", "bandPosition": 1}, "y": {"datum": 0.4895}, "text": {"field": "t"}}},
        {"data": {"values": [{"ratio": "0.3"}]}, "mark": {"type": "rule", "color": "#d6d2cc", "strokeWidth": 3}, "encoding": {"x": {"field": "ratio", "type": "nominal", "bandPosition": 0}}},
        {"mark": {"type": "rule", "color": "#4b4d54", "strokeWidth": 3}, "encoding": {"x": {"field": "ratio", "type": "nominal", "scale": {"domain": ["1", "0.3"], "paddingInner": 0, "paddingOuter": 0}}, "xOffset": {"field": "Model", "type": "nominal", "scale": {"domain": ["MLP", "Lasso-pruned", "MLP-pruned"], "paddingInner": 0, "paddingOuter": 0.5}}, "y": {"field": "lo", "type": "quantitative"}, "y2": {"field": "hi"}}},
        {"mark": {"type": "bar", "width": 62, "stroke": "#4b4d54", "strokeWidth": 3}, "encoding": {
          "x": {"field": "ratio", "type": "nominal", "scale": {"domain": ["1", "0.3"], "paddingInner": 0, "paddingOuter": 0}, "axis": {"title": null, "labels": false, "ticks": false}},
          "xOffset": {"field": "Model", "type": "nominal", "scale": {"domain": ["MLP", "Lasso-pruned", "MLP-pruned"], "paddingInner": 0, "paddingOuter": 0.5}},
          "y": {"field": "q1", "type": "quantitative", "scale": {"domain": [-0.115, 0.45], "nice": false, "zero": false}, "axis": {"title": null, "labels": false, "values": [0, 0.2, 0.4]}},
          "y2": {"field": "q3"},
          "color": {"field": "Model", "type": "nominal", "scale": {"domain": ["MLP", "Lasso-pruned", "MLP-pruned"], "range": ["#7b78aa", "#6fbdac", "#d68c22"]}}}},
        {"mark": {"type": "tick", "size": 62, "thickness": 3, "color": "#4b4d54"}, "encoding": {"x": {"field": "ratio", "type": "nominal"}, "xOffset": {"field": "Model", "type": "nominal"}, "y": {"field": "med", "type": "quantitative"}}},
        {"mark": {"type": "tick", "size": 31, "thickness": 3, "color": "#4b4d54"}, "encoding": {"x": {"field": "ratio", "type": "nominal"}, "xOffset": {"field": "Model", "type": "nominal"}, "y": {"field": "lo", "type": "quantitative"}}},
        {"mark": {"type": "tick", "size": 31, "thickness": 3, "color": "#4b4d54"}, "encoding": {"x": {"field": "ratio", "type": "nominal"}, "xOffset": {"field": "Model", "type": "nominal"}, "y": {"field": "hi", "type": "quantitative"}}},
        {"data": {"name": "out"}, "transform": [{"filter": "datum.qtl == 10000"}], "mark": {"type": "point", "shape": "circle", "filled": false, "size": 400, "stroke": "#4b4d54", "strokeWidth": 3, "opacity": 1}, "encoding": {"x": {"field": "ratio", "type": "nominal"}, "xOffset": {"field": "Model", "type": "nominal"}, "y": {"field": "v", "type": "quantitative"}}},
        {"data": {"values": [{}]}, "mark": {"type": "rule", "color": "#000", "strokeWidth": 3, "strokeDash": [28, 38]}, "encoding": {"y": {"datum": 0}}}
      ]
    }
  ],
  "columns": 4,
  "spacing": {"row": 293, "column": 107},
  "bounds": "flush",
  "config": {
    "view": {"stroke": null},
    "font": "Roboto",
    "axis": {"grid": false, "domainColor": "#000", "tickColor": "#000", "labelColor": "#000", "titleColor": "#000"},
    "axisY": {"format": ".1f", "tickSize": 20, "tickWidth": 3, "domainWidth": 3, "labelFont": "DejaVu Sans Mono", "labelFontSize": 60, "labelPadding": 14, "titleFont": "Roboto", "titleFontSize": 64, "titleFontWeight": 500, "titlePadding": 36, "titleLineHeight": 68},
    "axisX": {"domainWidth": 4, "ticks": false, "labels": false},
    "legend": {"orient": "none", "legendX": 0, "legendY": 1904, "direction": "horizontal", "titleFont": "Roboto", "titleFontSize": 64, "titleFontWeight": "bold", "titleColor": "#222", "titlePadding": 70, "titleLimit": 2000, "labelFont": "Roboto", "labelFontSize": 62, "labelColor": "#222", "labelLimit": 2000, "symbolType": "square", "symbolSize": 3844, "symbolStrokeWidth": 0, "symbolOpacity": 1, "labelOffset": 26, "columnPadding": 94}
  }
}
